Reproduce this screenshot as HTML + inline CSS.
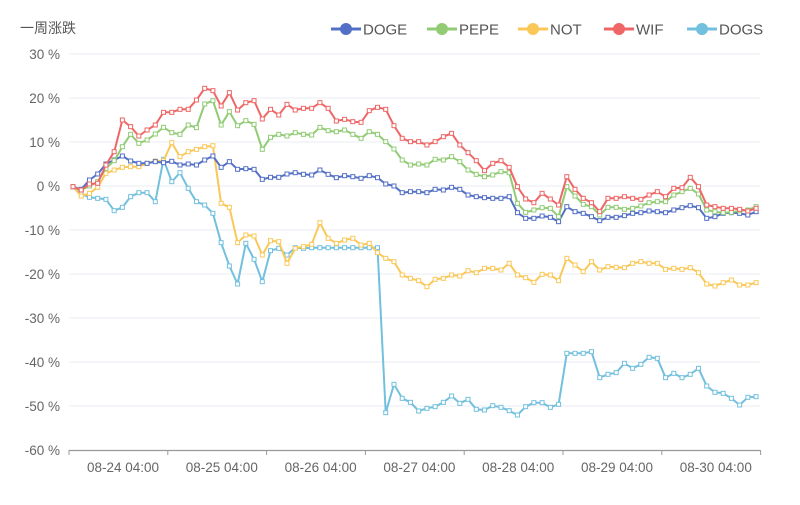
<!DOCTYPE html>
<html><head><meta charset="utf-8"><style>
body{margin:0;background:#fff;width:800px;height:500px;overflow:hidden}
svg text{font-family:"Liberation Sans","Noto Sans CJK SC",sans-serif}
</style></head><body>
<svg id="s" width="800" height="500" xmlns="http://www.w3.org/2000/svg">
<text x="20" y="33" font-size="14" fill="#555">一周涨跌</text>
<g id="grid"></g>
<g id="series"></g>
<g id="legend" font-size="14.5" fill="#555"></g>
</svg>
<script>
const s=document.getElementById('s'),NS='http://www.w3.org/2000/svg';
function el(t,a,p,txt){const e=document.createElementNS(NS,t);for(const k in a)e.setAttribute(k,a[k]);if(txt!==undefined)e.textContent=txt;(p||s).appendChild(e);return e;}
const g=document.getElementById('grid');
for(let i=0;i<=9;i++){const v=30-10*i,y=54+44*i;
 if(i<9)el('line',{x1:69,x2:760,y1:y,y2:y,stroke:'#e8ecf3','stroke-width':1},g);
 el('text',{x:60,y:y+5,'text-anchor':'end','font-size':13.5,fill:'#666'},g,v+' %');}
el('line',{x1:69,x2:760,y1:450.5,y2:450.5,stroke:'#999','stroke-width':1.2},g);
const labs=['08-24 04:00','08-25 04:00','08-26 04:00','08-27 04:00','08-28 04:00','08-29 04:00','08-30 04:00'];
for(let i=0;i<8;i++){const x=69+98.8*i;el('line',{x1:x,x2:x,y1:450,y2:455,stroke:'#999'},g);}
labs.forEach((l,i)=>el('text',{x:123+98.8*i,y:472,'text-anchor':'middle','font-size':13.5,fill:'#666'},g,l));
function z(a,off){return a.map(v=>off+v/3);}
const X=i=>73+8.23*i;
const DOGE=z([320,328,300,282,252,240,228,243,250,250,245,248,244,255,252,255,240,228,262,245,268,266,268,298,292,292,282,278,283],80)
 .concat(z([285,270,283,293,287,290,295,287,293,312,318,338,335,335,338,328,330,322,328,345,350,353,355,355,350,398,415,415,408,412],80))
 .concat(z([425,380,395,400,410,422,412,412,407,400,398,393,395,398,390,383,377,383,415,410,400,398,400,405,395],80));
const PEPE=z([320,330,318,305,265,242,200,163,190,180,162,142,158,163,135,143,72,62,135,95,137,122,133,208,172,163,168,158,163],80)
 .concat(z([165,142,152,155,150,163,175,155,163,185,207,240,255,252,255,238,240,230,245,270,283,290,285,275,278,370,397,390,383,385],80))
 .concat(z([410,320,348,373,380,405,382,382,388,385,378,368,365,365,345,335,325,342,390,395,398,397,392,390,380],80));
const WIF=z([320,330,312,310,255,215,120,140,168,150,135,97,97,88,88,60,25,32,78,38,90,68,62,117,88,105,73,90,85],80)
 .concat(z([85,68,85,123,118,125,127,92,82,88,137,175,185,185,195,185,170,160,195,218,242,272,250,242,262,320,357,368,340,357],80))
 .concat(z([375,290,328,355,368,395,355,355,350,355,358,345,335,350,325,323,292,320,375,380,385,385,388,393,385],80));
const NOT=z([320,348,340,322,280,270,262,260,260,250,243,242,188,230,215,208,200,197,370,382,488,465,468,525,482,485,550,505,500],80)
 .concat(z([493,428,475,490,480,475,495,490,518,535,545,585,595,602,620,598,595,585,588,572,578,565,565,570,550,585,593,607,583,585],80))
 .concat(z([602,535,555,575,545,570,560,562,563,550,545,550,550,568,565,568,563,578,612,618,608,600,615,615,608],80));
const DOGS=z([320,342,352,355,358,392,382,350,338,338,365,238,305,278,325,365,375,400,488,558,612,490,538,605,512,505,525,503,505],80)
 .concat(Array(9).fill(247.7))
 .concat(z([248,163,205,217,243,235,230,217,198,220,208,238,240,227,232,242,255,230,218,218,232,223],330))
 .concat(z([70,70,70,65,143,133,128,100,115,103,82,85,143,130,143,133,115,168,187,190,205,225,202,200],330));
const ser=[['DOGE','#5470c6',DOGE],['PEPE','#91cc75',PEPE],['NOT','#fac858',NOT],['WIF','#ee6666',WIF],['DOGS','#73c0de',DOGS]];
const sg=document.getElementById('series');
// draw in order so WIF/PEPE over
[DOGS,NOT,DOGE,PEPE,WIF];
const order=[4,2,0,1,3];
order.forEach(k=>{const [n,c,d]=ser[k];
 el('polyline',{points:d.map((y,i)=>X(i).toFixed(1)+','+y.toFixed(1)).join(' '),fill:'none',stroke:c,'stroke-width':2,'stroke-linejoin':'round'},sg);
 d.forEach((y,i)=>el('rect',{x:X(i)-2,y:y-2,width:4,height:4,fill:'#fff',stroke:c,'stroke-width':1},sg));
});
const lg=document.getElementById('legend');
const lx=[[331,363],[427,459],[518,550],[604,636],[687,719]];
ser.forEach(([n,c],i)=>{const [a,t]=lx[i];
 el('line',{x1:a,x2:a+30,y1:29,y2:29,stroke:c,'stroke-width':3},lg);
 el('circle',{cx:a+15,cy:29,r:6,fill:c},lg);
 el('text',{x:t,y:34.5,'font-family':'Liberation Serif,serif','font-size':15},lg,n);});
</script>
</body></html>
